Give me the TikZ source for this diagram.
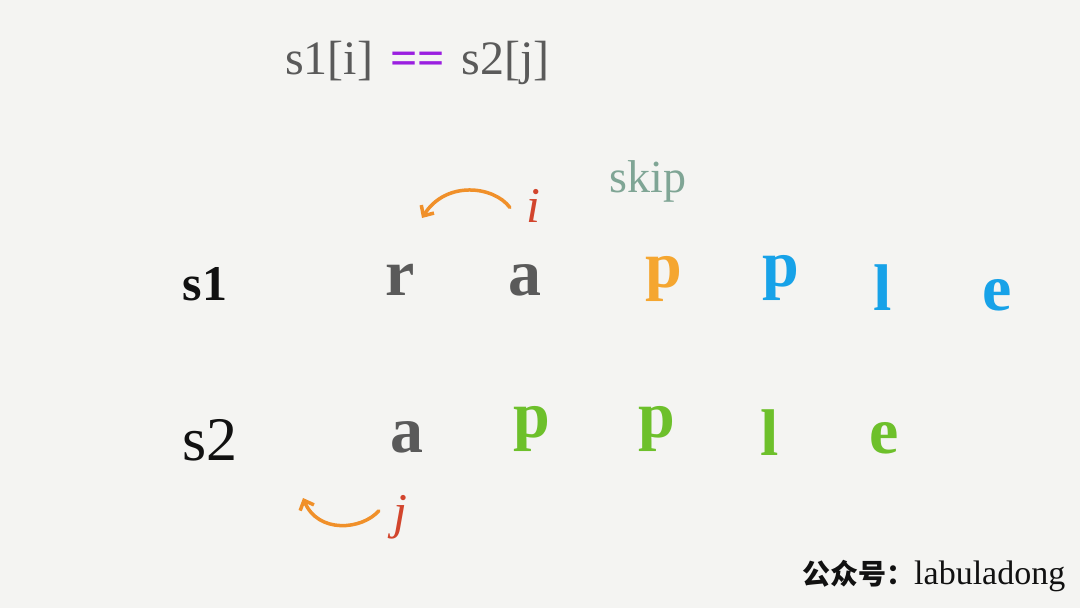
\documentclass[tikz,border=0pt]{standalone}
\usepackage{fontspec}
\setmainfont{Liberation Serif}
\newfontfamily\cjkfont{Noto Sans CJK SC}
\usetikzlibrary{positioning,arrows.meta}
\definecolor{paper}   {HTML}{F4F4F2}
\definecolor{ink}     {HTML}{111111}
\definecolor{lead}    {HTML}{5A5A5A}
\definecolor{violet}  {HTML}{9A1FE0}
\definecolor{sage}    {HTML}{7FA595}
\definecolor{brick}   {HTML}{D2452D}
\definecolor{mandarin}{HTML}{F0902A}
\definecolor{amber}   {HTML}{F5A630}
\definecolor{sky}     {HTML}{17A2E8}
\definecolor{leaf}    {HTML}{6DC02B}
\tikzset{
  every node/.style={inner sep=0pt, anchor=base},
  % --- nodes
  chr/.style   = {font=\fontsize{66}{66}\selectfont\bfseries, text=lead},
  old/.style   = {chr},
  hit/.style   = {chr, text=amber},
  rest/.style  = {chr, text=sky},
  tgt/.style   = {chr, text=leaf},
  ptr/.style   = {font=\fontsize{50}{50}\selectfont\itshape, text=brick},
  title/.style = {font=\fontsize{48}{48}\selectfont, text=lead, anchor=base west},
  note/.style  = {font=\fontsize{46}{46}\selectfont, text=sage},
  foot/.style  = {font=\fontsize{34}{34}\selectfont, text=ink, anchor=base west},
  % --- edges
  mv/.style    = {-{Straight Barb[length=8pt,width=15pt]}, line width=3.5pt,
                  draw=mandarin, line cap=round},
}
\begin{document}
\begin{tikzpicture}[x=1pt,y=-1pt]
  \fill[paper] (0,0) rectangle (1080,608);
  \useasboundingbox (0,0) rectangle (1080,608);

  \node[title] (cond) at (285,74)
    {s1[i]\hspace{17pt}{\color{violet}\bfseries ==}\hspace{17pt}s2[j]};
  \node[note] (skip) at (648,192) {skip};

  % --- s1
  \node[font=\fontsize{50}{50}\selectfont\bfseries, text=ink] (s1) at (205,300) {s1};
  \node[old]  (a0) at (400,295) {r};
  \node[old]  (a1) at (525,295) {a};
  \node[hit]  (a2) at (664,287) {p};
  \node[rest] (a3) at (781,286) {p};
  \node[rest] (a4) at (883,310) {l};
  \node[rest] (a5) at (997,310) {e};

  % --- s2
  \node[font=\fontsize{62}{62}\selectfont, text=ink] (s2) at (210,460) {s2};
  \node[old] (b0) at (407,452) {a};
  \node[tgt] (b1) at (532,437) {p};
  \node[tgt] (b2) at (657,437) {p};
  \node[tgt] (b3) at (770,455) {l};
  \node[tgt] (b4) at (884,453) {e};

  % --- pointers
  \node[ptr] (i) at (533,222) {i};
  \node[ptr] (j) at (400,528) {j};
  \coordinate (iprev) at (422,218);
  \coordinate (jprev) at (303,498);
  \draw[mv] ([xshift=-16pt,yshift=-2pt]i.west)
    .. controls (494,186) and (446,180) .. (iprev);
  \draw[mv] ([xshift=-14pt,yshift=6pt]j.west)
    .. controls (362,530) and (318,534) .. (jprev);

  \node[foot] (brand) at (802,584)
    {{\cjkfont\bfseries\fontsize{28}{28}\selectfont 公众号：}labuladong};
\end{tikzpicture}
\end{document}
